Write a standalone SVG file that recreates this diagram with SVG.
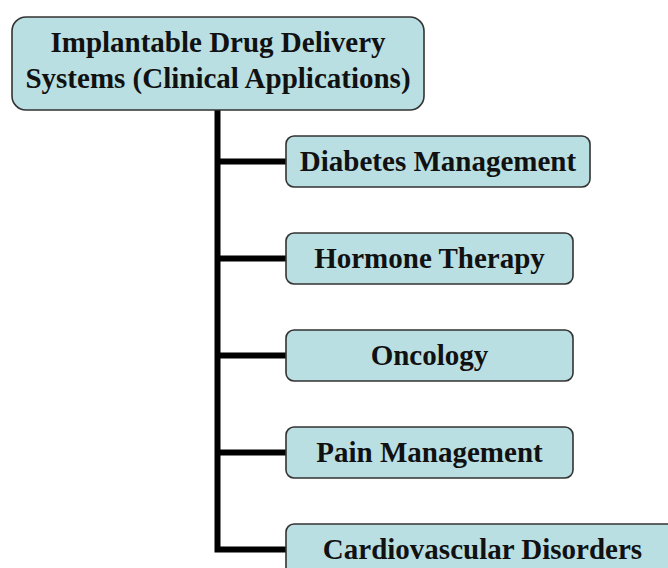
<svg xmlns="http://www.w3.org/2000/svg" width="668" height="568" viewBox="0 0 668 568">
<style>
.box{fill:#b9dfe2;stroke:#333;stroke-width:1.6}
.t{font-family:"Liberation Serif","Times New Roman",serif;font-weight:bold;font-size:29px;fill:#111;text-anchor:middle}
.c{fill:none;stroke:#000;stroke-width:6;stroke-linejoin:miter}
</style>
<rect width="668" height="568" fill="#fff"/>
<g id="connectors">
<path class="c" d="M217.5,110 V549.5 H287"/>
<path class="c" d="M217.5,161.5 H287"/>
<path class="c" d="M217.5,258.5 H287"/>
<path class="c" d="M217.5,355.5 H287"/>
<path class="c" d="M217.5,452.5 H287"/>
</g>
<g id="root">
<rect class="box" x="12" y="17" width="412" height="93" rx="14"/>
<text class="t" x="218" y="52">Implantable Drug Delivery</text>
<text class="t" x="218" y="88">Systems (Clinical Applications)</text>
</g>
<g id="diabetes">
<rect class="box" x="286" y="136" width="304" height="51" rx="8"/>
<text class="t" x="438" y="171">Diabetes Management</text>
</g>
<g id="hormone">
<rect class="box" x="286" y="233" width="287" height="51" rx="8"/>
<text class="t" x="429.5" y="268">Hormone Therapy</text>
</g>
<g id="oncology">
<rect class="box" x="286" y="330" width="287" height="51" rx="8"/>
<text class="t" x="429.5" y="365">Oncology</text>
</g>
<g id="pain">
<rect class="box" x="286" y="427" width="287" height="51" rx="8"/>
<text class="t" x="429.5" y="462">Pain Management</text>
</g>
<g id="cardio">
<rect class="box" x="286" y="524" width="393" height="51" rx="8"/>
<text class="t" x="482.5" y="559">Cardiovascular Disorders</text>
</g>
</svg>
